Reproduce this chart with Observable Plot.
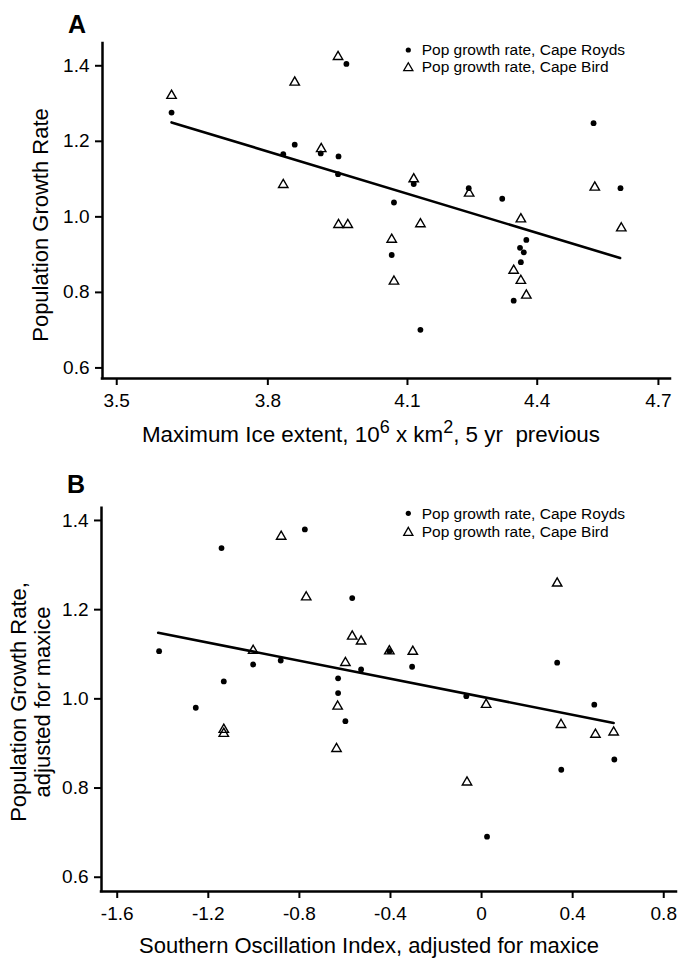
<!DOCTYPE html>
<html>
<head>
<meta charset="utf-8">
<script src="https://cdn.jsdelivr.net/npm/d3@7"></script>
<script src="https://cdn.jsdelivr.net/npm/@observablehq/plot@0.6"></script>
<style>
  html, body { margin: 0; padding: 0; background: #fff; }
  #wrap { position: relative; width: 683px; height: 961px; overflow: hidden; background: #fff; }
  #wrap > svg { position: absolute; left: 0; }
</style>
</head>
<body>
<div id="wrap"></div>
<script>
// ---------- Data ----------
// Panel A: maximum ice extent (5 yr previous) vs population growth rate
const roydsIce  = [3.606, 3.966, 3.832, 3.856, 3.911, 3.949, 3.948, 4.070, 4.065, 4.537,
                   4.604, 4.114, 4.239, 4.317, 4.374, 4.359, 4.368, 4.361, 4.344, 4.129];
const roydsRateA = [1.276, 1.405, 1.166, 1.191, 1.168, 1.160, 1.113, 1.038, 0.899, 1.248,
                   1.076, 1.087, 1.076, 1.048, 0.939, 0.918, 0.906, 0.880, 0.778, 0.701];
const birdIce   = [3.606, 3.856, 3.948, 3.912, 3.832, 3.949, 3.969, 4.065, 4.070,
                   4.540, 4.606, 4.114, 4.129, 4.240, 4.361, 4.344, 4.361, 4.374];
const birdRateA = [1.321, 1.356, 1.424, 1.180, 1.085, 0.979, 0.979, 0.940, 0.829,
                   1.078, 0.970, 1.100, 0.981, 1.062, 0.994, 0.858, 0.831, 0.792];
const fitIceX = [3.606, 4.603];
const fitIceY = [1.250, 0.891];

// Panel B: Southern Oscillation Index (adjusted) vs growth rate (adjusted)
const roydsSoi   = [-1.416, -1.142, -0.776, -1.003, -0.882, -1.132, -0.630, -0.630, -0.568, -0.405,
                    -0.305, -0.529, 0.332, -0.067, -1.255, 0.495, 0.583, 0.350, 0.024, -0.598];
const roydsRateB = [1.107, 1.338, 1.380, 1.077, 1.086, 1.039, 1.046, 1.013, 1.226, 1.107,
                    1.072, 1.066, 1.081, 1.006, 0.980, 0.987, 0.864, 0.841, 0.691, 0.950];
const birdSoi    = [-0.880, -0.770, -1.003, -0.568, -0.529, -0.405, -0.302, -0.598, 0.332,
                    -1.132, -1.132, -0.632, -0.637, 0.020, 0.349, 0.500, 0.580, -0.064];
const birdRateB  = [1.364, 1.228, 1.108, 1.140, 1.129, 1.107, 1.106, 1.081, 1.259,
                    0.931, 0.922, 0.983, 0.888, 0.987, 0.942, 0.920, 0.925, 0.813];
const fitSoiX = [-1.420, 0.580];
const fitSoiY = [1.148, 0.946];

// Ticks and labels
const iceTicks = [3.5, 3.8, 4.1, 4.4, 4.7];
const iceTickLabels = ["3.5", "3.8", "4.1", "4.4", "4.7"];
const rateTicks = [0.6, 0.8, 1.0, 1.2, 1.4];
const rateTickLabels = ["0.6", "0.8", "1.0", "1.2", "1.4"];
const soiTicks = [-1.6, -1.2, -0.8, -0.4, 0, 0.4, 0.8];
const soiTickLabels = ["-1.6", "-1.2", "-0.8", "-0.4", "0", "0.4", "0.8"];

const legendLabels = ["Pop growth rate, Cape Royds", "Pop growth rate, Cape Bird"];

// ---------- Build tables ----------
const zip = (xs, ys) => xs.map((x, i) => ({x, y: ys[i]}));
const FONT = "'Liberation Sans', Arial, Helvetica, sans-serif";

function panel(o) {
  const fmt = (ticks, labels) => d => labels[ticks.findIndex(t => Math.abs(t - d) < 1e-9)];
  return Plot.plot({
    width: 683,
    height: o.height,
    marginLeft: o.ml, marginRight: o.mr, marginTop: o.mt, marginBottom: o.mb,
    style: {fontFamily: FONT, fontSize: "19px", color: "black", background: "white", overflow: "visible"},
    x: {type: o.xType, domain: o.xDomain},
    y: {type: "linear", domain: o.yDomain},
    marks: [
      Plot.axisX({ticks: o.xTicks, tickFormat: fmt(o.xTicks, o.xLabels), tickSize: 7, tickPadding: 8,
                  strokeWidth: 2, fontSize: 19, label: null}),
      Plot.axisY({ticks: rateTicks, tickFormat: fmt(rateTicks, rateTickLabels), tickSize: 7, tickPadding: 6,
                  strokeWidth: 2, fontSize: 19, label: null}),
      Plot.ruleY([o.yDomain[0]], {stroke: "black", strokeWidth: 2.5, strokeLinecap: "square"}),
      Plot.ruleX([o.xDomain[0]], {stroke: "black", strokeWidth: 2.5, strokeLinecap: "square"}),
      Plot.line(o.fit, {x: "x", y: "y", stroke: "black", strokeWidth: 2.6}),
      Plot.dot(o.royds, {x: "x", y: "y", r: 2.9, fill: "black", stroke: null}),
      Plot.dot(o.bird, {x: "x", y: "y", symbol: "triangle", r: 3.5, fill: "none", stroke: "black", strokeWidth: 1.4})
    ]
  });
}

const wrap = document.getElementById("wrap");

const chartA = panel({
  height: 480, ml: 102, mr: 13, mt: 43, mb: 102,
  xType: "log", xDomain: [3.473, 4.731], yDomain: [0.572, 1.459],
  xTicks: iceTicks, xLabels: iceTickLabels,
  fit: zip(fitIceX, fitIceY), royds: zip(roydsIce, roydsRateA), bird: zip(birdIce, birdRateA)
});
chartA.style.top = "0px";
wrap.appendChild(chartA);

const chartB = panel({
  height: 481, ml: 101, mr: 7, mt: 27.7, mb: 70,
  xType: "linear", xDomain: [-1.669, 0.856], yDomain: [0.568, 1.4275],
  xTicks: soiTicks, xLabels: soiTickLabels,
  fit: zip(fitSoiX, fitSoiY), royds: zip(roydsSoi, roydsRateB), bird: zip(birdSoi, birdRateB)
});
chartB.style.top = "480px";
wrap.appendChild(chartB);

// ---------- Overlay: panel letters, axis titles, legends ----------
const ov = d3.select(wrap).append("svg")
  .attr("width", 683).attr("height", 961)
  .style("top", "0px").style("pointer-events", "none")
  .style("font-family", FONT);

// panel letters
ov.append("text").attr("x", 68).attr("y", 33).attr("font-size", 25).attr("font-weight", "bold").text("A");
ov.append("text").attr("x", 67).attr("y", 493).attr("font-size", 25).attr("font-weight", "bold").text("B");

// y titles
ov.append("text").attr("transform", "translate(48,225) rotate(-90)").attr("text-anchor", "middle")
  .attr("font-size", 22).text("Population Growth Rate");
ov.append("text").attr("transform", "translate(26,702) rotate(-90)").attr("text-anchor", "middle")
  .attr("font-size", 22).text("Population Growth Rate,");
ov.append("text").attr("transform", "translate(50,702) rotate(-90)").attr("text-anchor", "middle")
  .attr("font-size", 22).text("adjusted for maxice");

// x titles
const tA = ov.append("text").attr("x", 371).attr("y", 442).attr("text-anchor", "middle").attr("font-size", 22.4);
tA.append("tspan").text("Maximum Ice extent, 10");
tA.append("tspan").attr("font-size", 18).attr("dy", -9).text("6");
tA.append("tspan").attr("dy", 9).text(" x km");
tA.append("tspan").attr("font-size", 18).attr("dy", -9).text("2");
tA.append("tspan").attr("dy", 9).attr("xml:space", "preserve").text(", 5 yr\u00a0 previous");

ov.append("text").attr("x", 369).attr("y", 953).attr("text-anchor", "middle").attr("font-size", 22)
  .text("Southern Oscillation Index, adjusted for maxice");

// legends
function legend(y1, y2) {
  ov.append("circle").attr("cx", 408.3).attr("cy", y1).attr("r", 2.6).attr("fill", "black");
  const sym = d3.symbol(d3.symbolTriangle, 3.4 * 3.4 * Math.PI);
  ov.append("path").attr("d", sym()).attr("transform", `translate(408.3,${y2 + 1})`)
    .attr("fill", "none").attr("stroke", "black").attr("stroke-width", 1.3);
  ov.append("text").attr("x", 421.7).attr("y", y1).attr("dy", "0.35em").attr("font-size", 15.5).text(legendLabels[0]);
  ov.append("text").attr("x", 421.7).attr("y", y2).attr("dy", "0.35em").attr("font-size", 15.5).text(legendLabels[1]);
}
legend(50, 67);
legend(513.3, 531.7);
</script>
</body>
</html>
